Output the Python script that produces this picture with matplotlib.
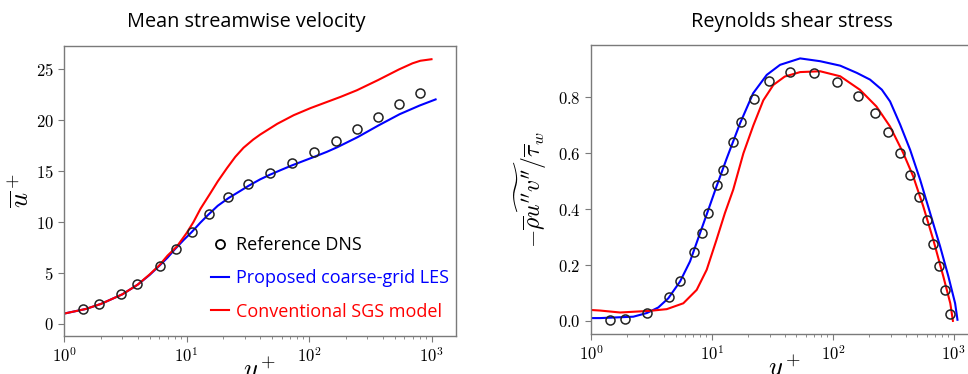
import matplotlib
matplotlib.use('Agg')
import matplotlib.pyplot as plt
from matplotlib.lines import Line2D

plt.rcParams['mathtext.fontset'] = 'cm'
plt.rcParams['font.family'] = 'cmr10'
plt.rcParams['axes.formatter.use_mathtext'] = True

# ---- mean streamwise velocity ----
u_dns_y = [1.44, 1.92, 2.91, 3.91, 6.03, 8.24, 11.07, 15.3, 22.0, 31.8, 48.1, 72.3,
           110, 167, 246, 366, 543, 811]
u_dns = [1.41, 1.93, 2.92, 3.87, 5.70, 7.37, 9.04, 10.78, 12.42, 13.70, 14.81, 15.83,
         16.87, 17.96, 19.10, 20.31, 21.56, 22.7]

u_les_y = [1.0, 1.5, 2, 3, 4, 5, 6, 7, 8, 9.5, 11, 13, 15, 18, 22, 27, 32, 40, 48, 60, 72,
           90, 110, 140, 170, 250, 370, 550, 800, 1080]
u_les = [1.0, 1.45, 1.95, 2.9, 3.85, 4.8, 5.7, 6.5, 7.3, 8.25, 9.0, 9.95, 10.7, 11.6,
         12.35, 13.0, 13.55, 14.2, 14.65, 15.15, 15.55, 16.0, 16.4, 16.9, 17.35, 18.35,
         19.5, 20.6, 21.45, 22.05]

u_sgs_y = [1.0, 1.5, 2, 3, 4, 5, 6, 7, 8.35, 10, 11.4, 13, 15.6, 18, 21.4, 25, 29.2, 35,
           40, 48, 55, 75, 103, 181, 246, 366, 543, 700, 811, 1000]
u_sgs = [1.0, 1.45, 1.95, 2.9, 3.85, 4.85, 5.75, 6.7, 7.6, 8.9, 10.0, 11.3, 12.8, 14.0,
         15.3, 16.4, 17.3, 18.1, 18.6, 19.2, 19.65, 20.5, 21.2, 22.3, 22.95, 23.95, 25.0,
         25.6, 25.85, 26.0]

# ---- Reynolds shear stress ----
s_dns_y = [1.44, 1.92, 2.92, 4.45, 5.48, 7.16, 8.23, 9.34, 11.1, 12.4, 14.9, 17.4, 22.2,
           29.9, 44.5, 70.3, 108, 160, 221, 288, 359, 438, 516, 598, 679, 761, 841, 931]
s_dns = [0.004, 0.008, 0.027, 0.086, 0.142, 0.245, 0.316, 0.388, 0.486, 0.542, 0.639,
         0.712, 0.796, 0.859, 0.892, 0.887, 0.857, 0.807, 0.744, 0.676, 0.601, 0.521,
         0.442, 0.361, 0.277, 0.195, 0.109, 0.024]

s_les_y = [1.0, 1.19, 2.24, 2.89, 3.6, 4.36, 5.45, 6.59, 7.97, 9.34, 10.9, 13.2, 17.1, 21.9,
           28.4, 36.6, 53.6, 78.4, 115, 158, 203, 254, 297, 360, 435, 527, 637, 771, 902,
           1025, 1072]
s_les = [0.010, 0.010, 0.015, 0.028, 0.048, 0.081, 0.141, 0.213, 0.314, 0.398, 0.481,
         0.58, 0.708, 0.815, 0.881, 0.917, 0.940, 0.930, 0.914, 0.888, 0.864, 0.828, 0.786,
         0.703, 0.613, 0.505, 0.386, 0.266, 0.159, 0.063, 0.004]

s_sgs_y = [1.0, 1.19, 1.74, 3.08, 4.23, 5.8, 7.48, 9.05, 10.9, 12.8, 15.0, 18.2, 22, 26.6,
           32.2, 40, 53.6, 78.4, 115, 167, 229, 297, 382, 462, 559, 677, 819, 935, 983]
s_sgs = [0.039, 0.037, 0.030, 0.036, 0.042, 0.063, 0.111, 0.183, 0.290, 0.386, 0.470,
         0.60, 0.70, 0.79, 0.845, 0.875, 0.891, 0.894, 0.876, 0.828, 0.768, 0.696, 0.601,
         0.517, 0.410, 0.290, 0.159, 0.063, 0.0]

titles = ['Mean streamwise velocity', 'Reynolds shear stress']
legend_labels = ['Reference DNS', 'Proposed coarse-grid LES', 'Conventional SGS model']

fig = plt.figure(figsize=(9.68, 3.74), dpi=100)
ax1 = fig.add_axes([64/968, 38/374, 392/968, 290/374])
ax2 = fig.add_axes([591/968, 40/374, 387/968, 289/374])

spine_col = '#7a7a7a'
for ax in (ax1, ax2):
    ax.set_xscale('log')
    for s in ax.spines.values():
        s.set_color(spine_col)
        s.set_linewidth(1.0)
    ax.tick_params(which='both', color=spine_col, labelsize=12)
    ax.tick_params(which='major', length=4)
    ax.tick_params(which='minor', length=2.5)

ax1.plot(u_les_y, u_les, color='blue', lw=1.5)
ax1.plot(u_sgs_y, u_sgs, color='red', lw=1.5)
ax1.plot(u_dns_y, u_dns, 'o', mfc='none', mec='#222222', ms=6.5, mew=1.1)
ax1.set_xlim(1, 10**3.2)
ax1.set_ylim(-1.2, 27.3)
ax1.set_yticks([0, 5, 10, 15, 20, 25])
ax1.set_xlabel(r'$y^+$', fontsize=19, labelpad=-8)
ax1.set_ylabel(r'$\overline{u}^+$', fontsize=19, labelpad=1)

ax2.plot(s_les_y, s_les, color='blue', lw=1.5)
ax2.plot(s_sgs_y, s_sgs, color='red', lw=1.5)
ax2.plot(s_dns_y, s_dns, 'o', mfc='none', mec='#222222', ms=6.5, mew=1.1)
ax2.set_xlim(1, 10**3.2)
ax2.set_ylim(-0.047, 0.988)
ax2.set_yticks([0.0, 0.2, 0.4, 0.6, 0.8])
ax2.set_xlabel(r'$y^+$', fontsize=19, labelpad=-8)
ax2.set_ylabel(r'$-\overline{\rho}\widetilde{u^{\prime\prime}v^{\prime\prime}}/\overline{\tau}_w$',
               fontsize=17, labelpad=6)

fig.text(246/968, 1 - 22/374, titles[0], ha='center', va='center',
         fontsize=14.3, family='Open Sans')
fig.text(792/968, 1 - 22/374, titles[1], ha='center', va='center',
         fontsize=14.3, family='Open Sans')

handles = [Line2D([], [], ls='none', marker='o', mfc='none', mec='black', ms=6.5, mew=1.3),
           Line2D([], [], color='blue', lw=1.5),
           Line2D([], [], color='red', lw=1.5)]
leg = ax1.legend(handles, legend_labels, loc='upper left', bbox_to_anchor=(0.375, 0.345),
                 frameon=False, borderaxespad=0, borderpad=0, handlelength=1.0,
                 handletextpad=0.4, labelspacing=0.85,
                 prop={'family': 'Open Sans', 'size': 13})
for t, c in zip(leg.get_texts(), ['black', 'blue', 'red']):
    t.set_color(c)

fig.savefig('out.png', dpi=100)
